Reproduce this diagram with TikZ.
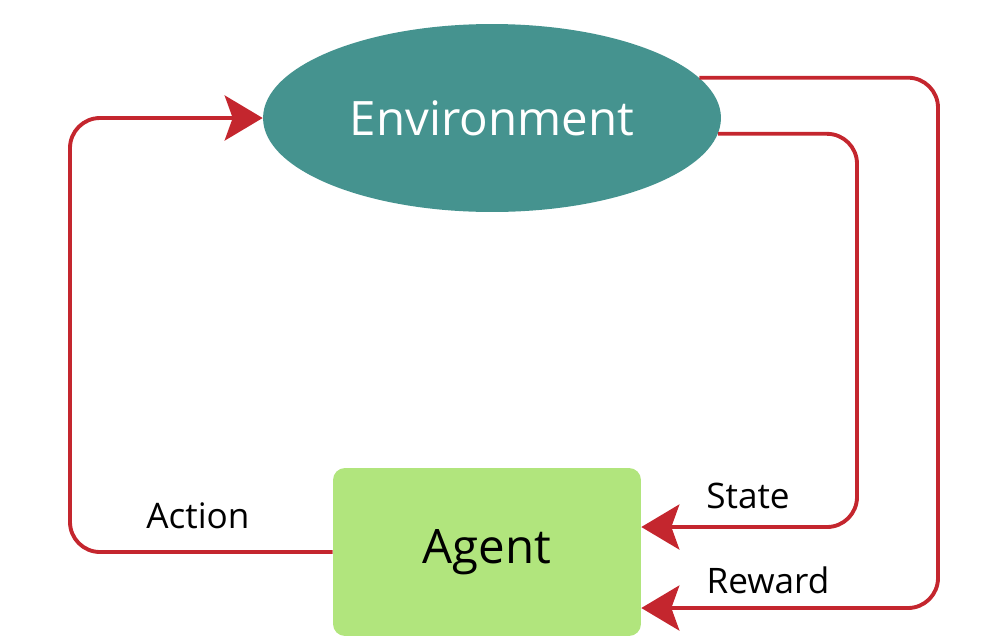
\documentclass[tikz,border=0pt]{standalone}
\usepackage{fontspec}
\setmainfont{Open Sans}
\usetikzlibrary{shapes,arrows.meta,positioning}
\definecolor{envteal}{HTML}{45938F}
\definecolor{agentgreen}{HTML}{B1E57D}
\definecolor{loopred}{HTML}{C4262E}

\begin{document}
\begin{tikzpicture}[x=0.02cm,y=-0.02cm,% one unit is one pixel of the layout
			every node/.style={
				align=center,		% so that "\\" works inside nodes
				inner sep=0pt
			},
			flow/.style={draw=loopred,line width=2.2pt,rounded corners=0.6cm,
				-{Stealth[length=0.76cm,width=0.9cm,inset=0.16cm]}},
			looplabel/.style={font=\fontsize{20}{24}\selectfont}
		]
		\useasboundingbox (0,0) rectangle (996,643);
		\node[ellipse,fill=envteal,minimum width=9.16cm,minimum height=3.76cm](Env) at (492,118)
			{\color{white}\fontsize{27}{32}\selectfont Environment};
		\node[rectangle,rounded corners=0.24cm,fill=agentgreen,minimum width=6.16cm,minimum height=3.36cm](Agent) at (487,552)
			{\fontsize{27}{32}\selectfont Agent};
		% corners of the three loops
		\coordinate (ActCorner) at (70,118);
		\coordinate (StateCorner) at (857,527);
		\coordinate (RewCorner) at (938,608);
		\node[looplabel](Action) at (198,516) {Action};
		\node[looplabel](State) at (748,496) {State};
		\node[looplabel](Reward) at (768,580) {Reward};
		\draw[flow] (Agent.west) -| (ActCorner) -- (Env.west);
		\draw[flow] (Env.-4.85) -| (StateCorner) -- (StateCorner -| Agent.east);
		\draw[flow] (Env.11.3) -| (RewCorner) -- (RewCorner -| Agent.east);
	\end{tikzpicture}
\end{document}
